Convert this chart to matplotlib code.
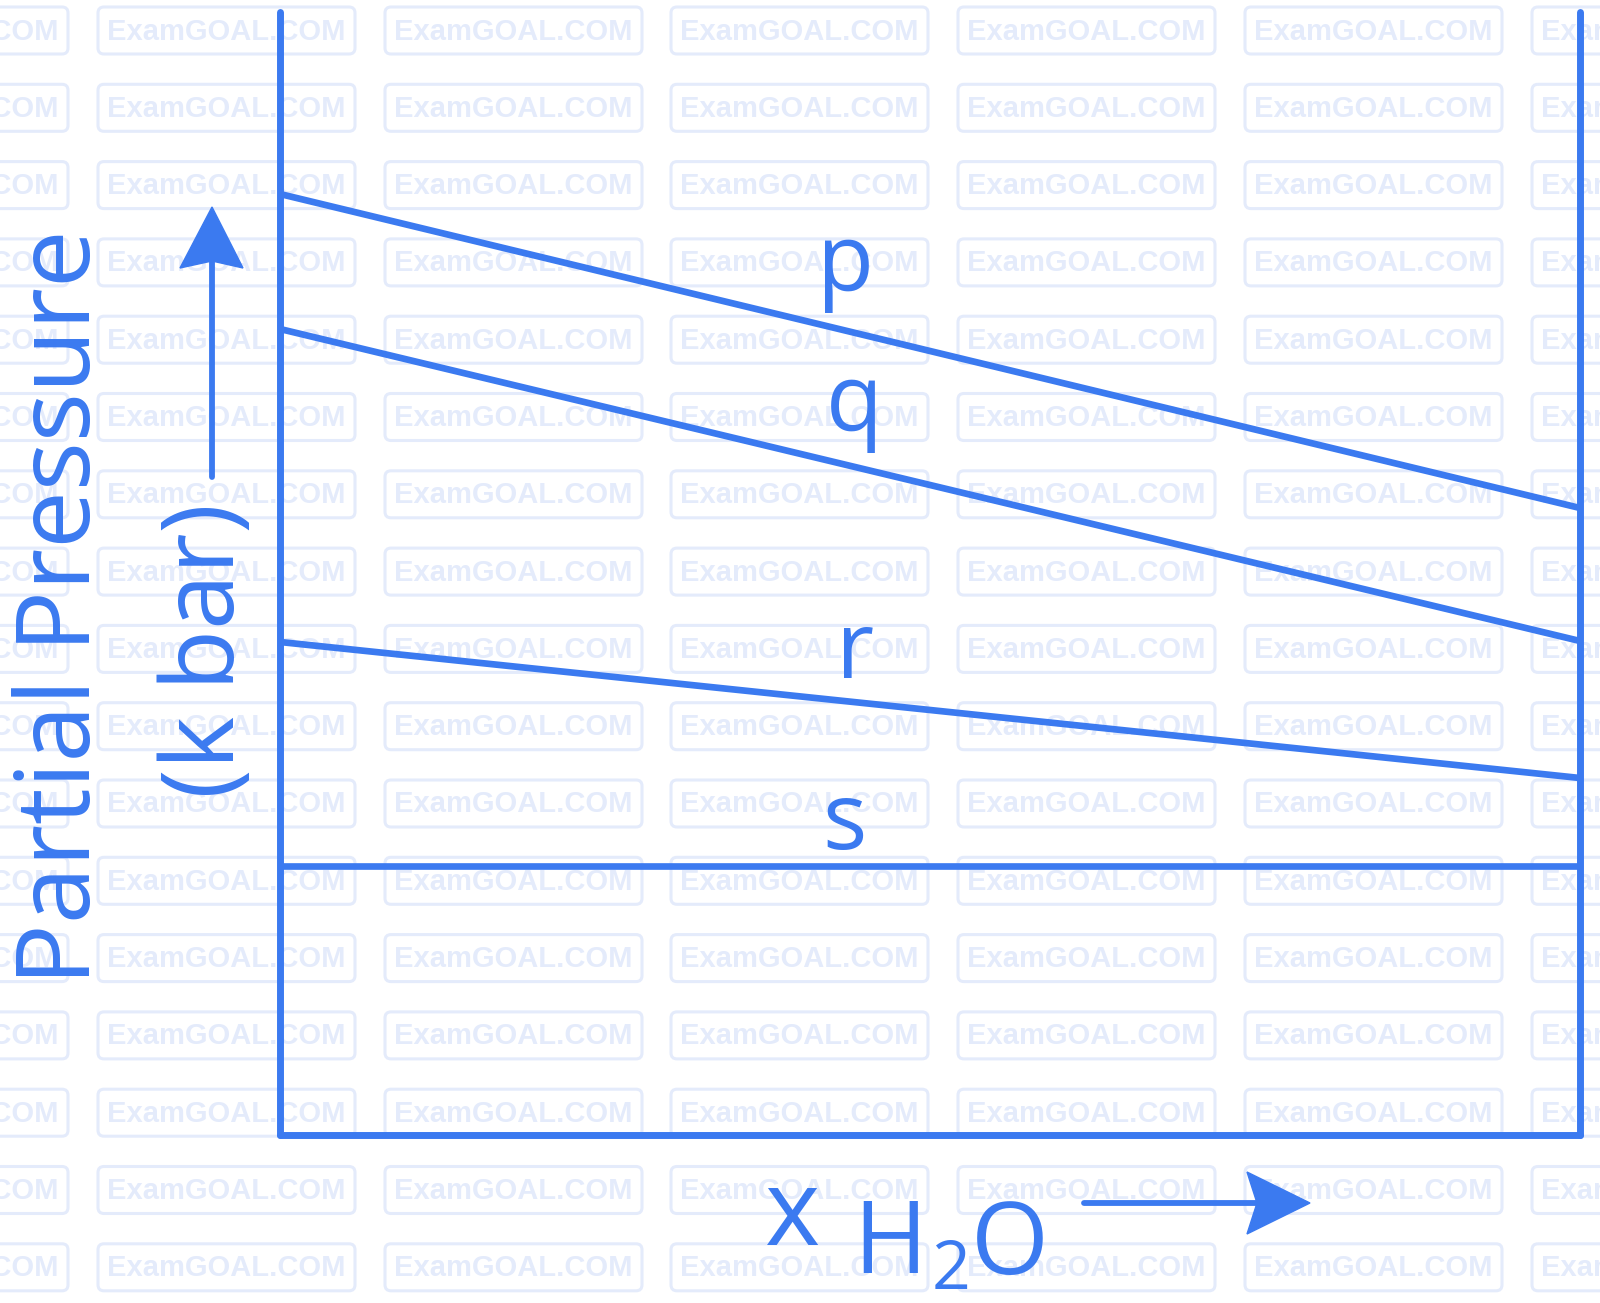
import numpy as np
import matplotlib
matplotlib.use("Agg")
import matplotlib.pyplot as plt
from matplotlib.patches import FancyBboxPatch, Polygon

# mole fraction of water (ends of each line)
x_h2o = [0.0, 1.0]
# partial pressure of each gas at the two ends (arbitrary k bar scale)
p_vals = [9.41, 6.27]
q_vals = [8.06, 4.94]
r_vals = [4.93, 3.57]
s_vals = [2.69, 2.69]
gas_names = ["p", "q", "r", "s"]
label_x = [0.435, 0.442, 0.442, 0.434]
label_y = [8.44, 7.04, 4.57, 2.86]

blue = "#3b7af0"
wm = "#e4ebfb"
W, H = 1600, 1303
fig = plt.figure(figsize=(W / 100, H / 100), dpi=100)
fig.patch.set_facecolor("white")

# background layer in pixel coords (watermark + arrows + axis captions)
bg = fig.add_axes([0, 0, 1, 1], zorder=0)
bg.set_xlim(0, W)
bg.set_ylim(H, 0)
bg.axis("off")

col_left = [-189, 98, 385, 671, 958, 1245, 1532]
for i in range(17):
    top = 7 + 77.3 * i
    for cl in col_left:
        bg.add_patch(FancyBboxPatch((cl, top), 257, 47,
                                    boxstyle="round,pad=0,rounding_size=6",
                                    fc="none", ec=wm, lw=2.2, zorder=1))
        bg.text(cl + 128.5, top + 24.5, "ExamGOAL.COM", color=wm,
                fontsize=21, fontweight="bold", family="Liberation Sans",
                ha="center", va="center", zorder=1)

# up arrow next to y label
bg.plot([212, 212], [477, 262], color=blue, lw=4.2, solid_capstyle="round",
        zorder=5)
bg.add_patch(Polygon([[212, 207], [180, 268], [212, 261], [243, 268]],
                     closed=True, fc=blue, ec=blue, lw=1, zorder=5))
# right arrow next to x label
bg.plot([1084, 1258], [1203, 1203], color=blue, lw=4.2, solid_capstyle="round",
        zorder=5)
bg.add_patch(Polygon([[1310, 1203], [1247, 1172], [1257, 1203], [1247, 1234]],
                     closed=True, fc=blue, ec=blue, lw=1, zorder=5))

font = "Open Sans"
bg.text(64, 607, "Partial Pressure", rotation=90, color=blue, fontsize=74,
        family=font, ha="center", va="center", zorder=5)
bg.text(208, 650, "(k bar)", rotation=90, color=blue, fontsize=72,
        family=font, ha="center", va="center", zorder=5)
bg.text(765, 1245, "x", color=blue, fontsize=76, family=font,
        ha="left", va="baseline", zorder=5)
bg.text(853, 1273, "H", color=blue, fontsize=72, family=font,
        ha="left", va="baseline", zorder=5)
bg.text(932, 1289, "2", color=blue, fontsize=49, family=font,
        ha="left", va="baseline", zorder=5)
bg.text(971, 1274, "O", color=blue, fontsize=72, family=font,
        ha="left", va="baseline", zorder=5)

# main plot frame
ax = fig.add_axes([280 / W, (H - 1135) / H, 1300 / W, (1135 - 12) / H], zorder=1)
ax.set_facecolor("none")
ax.set_xlim(0, 1)
ax.set_ylim(0, 11.23)
for side in ["left", "right", "bottom"]:
    ax.spines[side].set_color(blue)
    ax.spines[side].set_linewidth(5)
    ax.spines[side].set_capstyle("round")
ax.spines["top"].set_visible(False)
ax.set_xticks([])
ax.set_yticks([])

for vals in [p_vals, q_vals, r_vals, s_vals]:
    ax.plot(x_h2o, vals, color=blue, lw=4.8, solid_capstyle="butt")

for name, lx, ly in zip(gas_names, label_x, label_y):
    ax.text(lx, ly, name, color=blue, fontsize=67, family=font,
            ha="center", va="baseline")

fig.savefig("out.png", dpi=100)
